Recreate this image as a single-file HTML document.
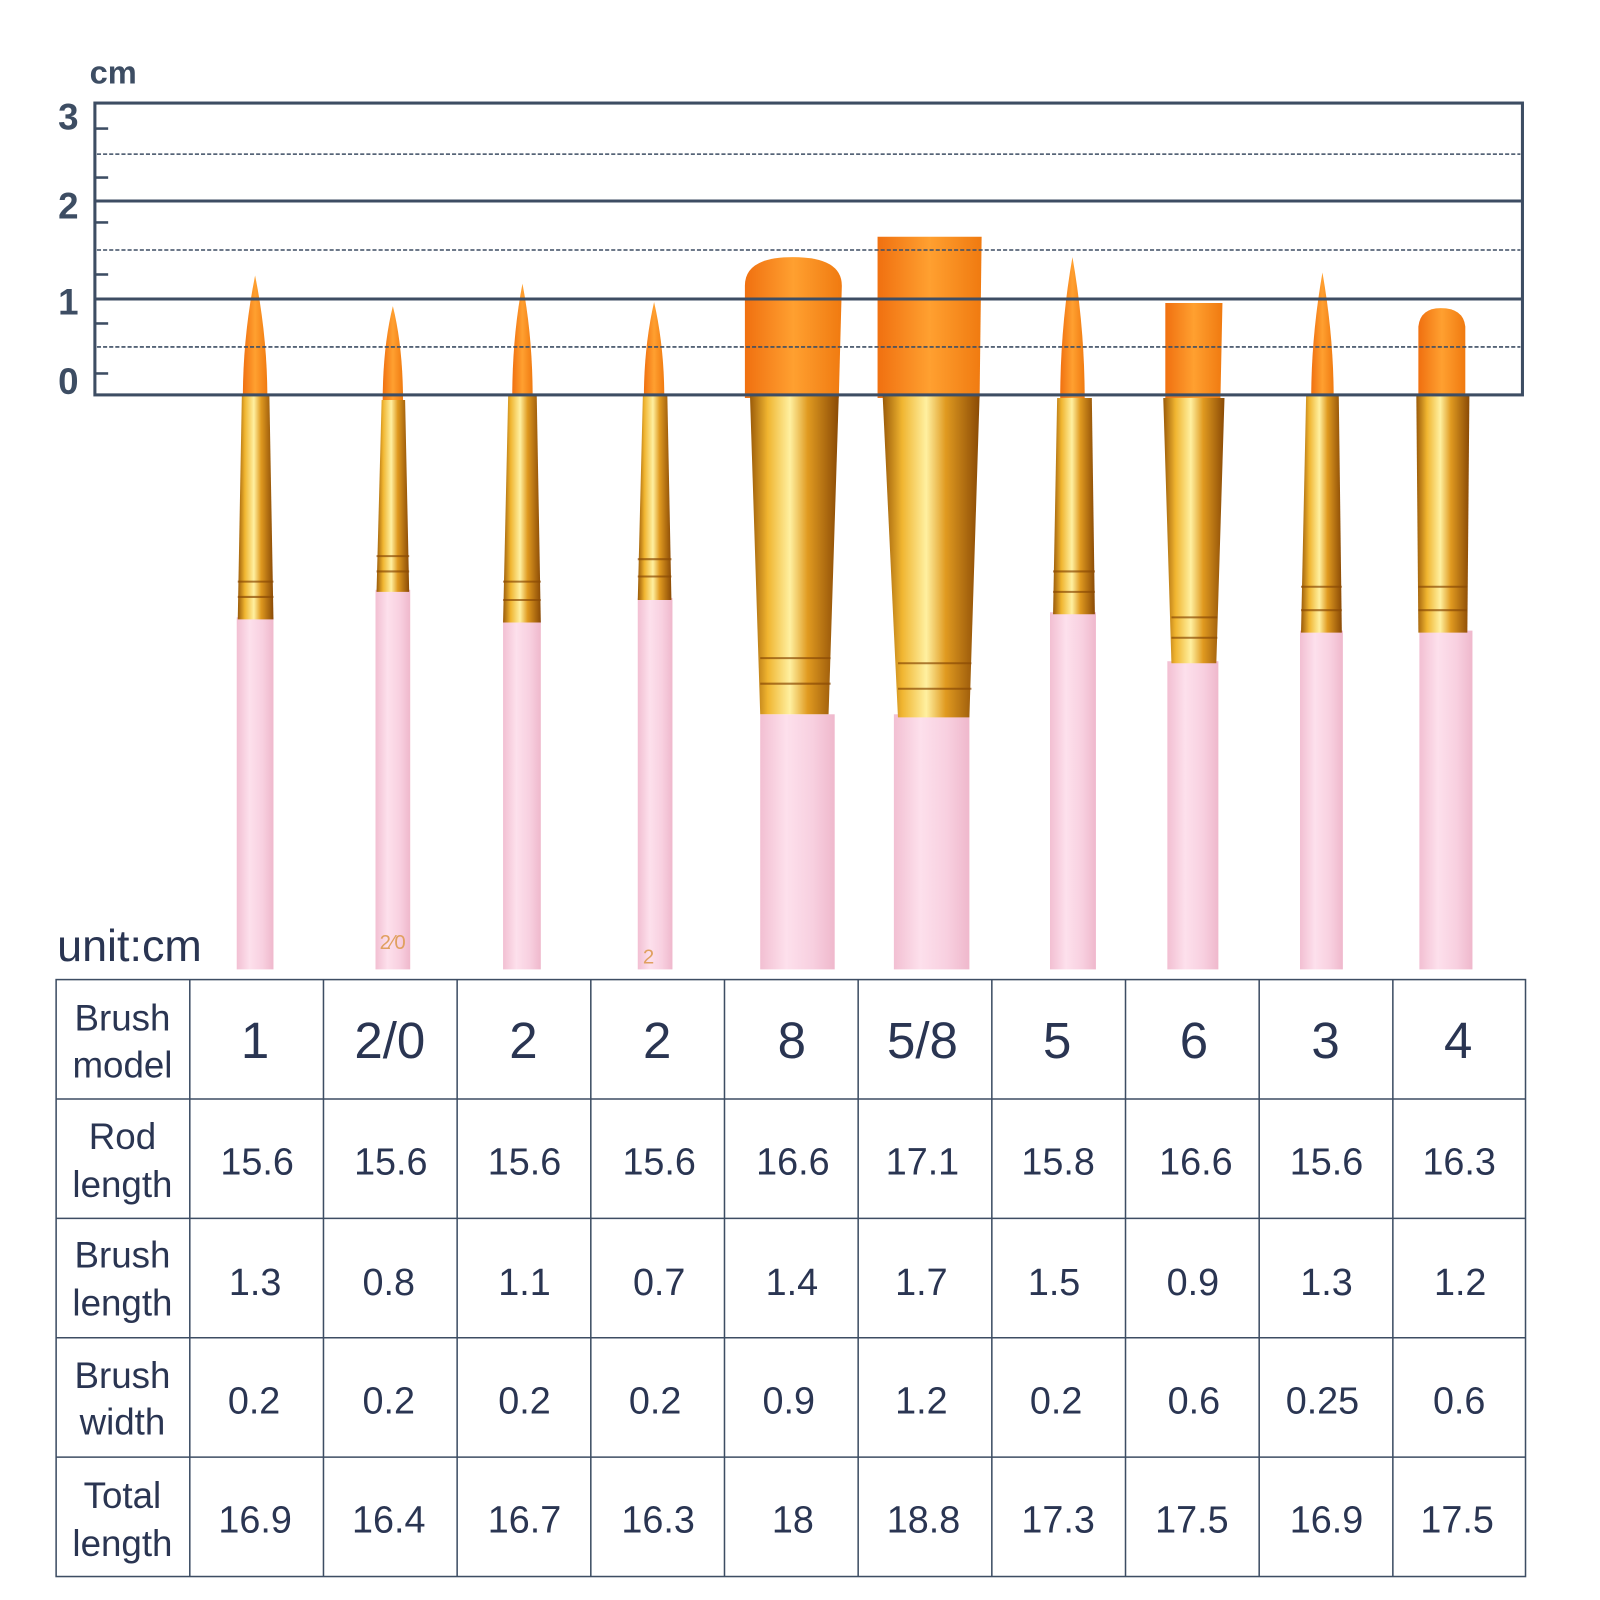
<!DOCTYPE html>
<html><head><meta charset="utf-8"><style>
html,body{margin:0;padding:0;background:#fff;width:1600px;height:1600px;overflow:hidden}
svg{display:block}
text{font-family:"Liberation Sans",sans-serif}
</style></head><body>
<svg width="1600" height="1600" viewBox="0 0 1568 1568" xmlns="http://www.w3.org/2000/svg">
<defs>
<linearGradient id="gold" x1="0" x2="1" y1="0" y2="0">
<stop offset="0" stop-color="#9a5a08"/><stop offset="0.2" stop-color="#f0b530"/><stop offset="0.45" stop-color="#fff0a0"/><stop offset="0.65" stop-color="#e09a20"/><stop offset="1" stop-color="#8a4a05"/></linearGradient>
<linearGradient id="pink" x1="0" x2="1" y1="0" y2="0">
<stop offset="0" stop-color="#f2bfd2"/><stop offset="0.35" stop-color="#fde0ec"/><stop offset="0.7" stop-color="#f8d0e0"/><stop offset="1" stop-color="#efb8cc"/></linearGradient>
<linearGradient id="hair" x1="0" x2="1" y1="0" y2="0">
<stop offset="0" stop-color="#f07010"/><stop offset="0.5" stop-color="#ffa030"/><stop offset="1" stop-color="#f07a10"/></linearGradient>
</defs>

<g>
<rect x="232" y="605" width="36" height="345" fill="url(#pink)"/>
<rect x="368" y="578" width="34" height="372" fill="url(#pink)"/>
<rect x="493" y="608" width="37" height="342" fill="url(#pink)"/>
<rect x="625" y="586" width="34" height="364" fill="url(#pink)"/>
<rect x="745" y="700" width="73" height="250" fill="url(#pink)"/>
<rect x="876" y="700" width="74" height="250" fill="url(#pink)"/>
<rect x="1029" y="600" width="45" height="350" fill="url(#pink)"/>
<rect x="1144" y="648" width="50" height="302" fill="url(#pink)"/>
<rect x="1274" y="618" width="42" height="332" fill="url(#pink)"/>
<rect x="1391" y="618" width="52" height="332" fill="url(#pink)"/>
<path d="M250 270 Q262 330 262 390 L238 390 Q238 330 250 270Z" fill="url(#hair)"/>
<path d="M385 300 Q395 340 395 395 L375 395 Q375 340 385 300Z" fill="url(#hair)"/>
<path d="M512 278 Q522 330 522 390 L502 390 Q502 330 512 278Z" fill="url(#hair)"/>
<path d="M641 296 Q651 340 651 390 L631 390 Q631 340 641 296Z" fill="url(#hair)"/>
<path d="M730 390 L730 280 Q730 252 777 252 Q825 252 825 280 L822 390Z" fill="url(#hair)"/>
<path d="M860 390 L860 232 L962 232 L960 390Z" fill="url(#hair)"/>
<path d="M1051 252 Q1063 320 1063 392 L1039 392 Q1039 320 1051 252Z" fill="url(#hair)"/>
<path d="M1142 392 L1142 297 L1198 297 L1196 392Z" fill="url(#hair)"/>
<path d="M1296 267 Q1307 330 1307 390 L1285 390 Q1285 330 1296 267Z" fill="url(#hair)"/>
<path d="M1390 390 L1390 320 Q1392 302 1412 302 Q1434 302 1436 320 L1436 390Z" fill="url(#hair)"/>
<path d="M237 388 L264 388 L268 607 L233 607Z" fill="url(#gold)"/>
<path d="M374 392 L397 392 L401 580 L369 580Z" fill="url(#gold)"/>
<path d="M498 388 L526 388 L530 610 L493 610Z" fill="url(#gold)"/>
<path d="M630 388 L654 388 L658 588 L625 588Z" fill="url(#gold)"/>
<path d="M735 388 L822 388 L812 700 L745 700Z" fill="url(#gold)"/>
<path d="M865 388 L960 388 L950 703 L880 703Z" fill="url(#gold)"/>
<path d="M1036 390 L1070 390 L1073 602 L1032 602Z" fill="url(#gold)"/>
<path d="M1140 390 L1200 390 L1192 650 L1148 650Z" fill="url(#gold)"/>
<path d="M1280 388 L1312 388 L1315 620 L1275 620Z" fill="url(#gold)"/>
<path d="M1388 388 L1440 388 L1438 620 L1390 620Z" fill="url(#gold)"/>
<g stroke="#8a4a05" stroke-width="2" opacity="0.7">
<line x1="233" y1="570" x2="268" y2="570"/><line x1="233" y1="585" x2="268" y2="585"/>
<line x1="369" y1="545" x2="401" y2="545"/><line x1="369" y1="560" x2="401" y2="560"/>
<line x1="493" y1="570" x2="530" y2="570"/><line x1="493" y1="588" x2="530" y2="588"/>
<line x1="625" y1="548" x2="658" y2="548"/><line x1="625" y1="565" x2="658" y2="565"/>
<line x1="745" y1="645" x2="814" y2="645"/><line x1="745" y1="670" x2="814" y2="670"/>
<line x1="880" y1="650" x2="952" y2="650"/><line x1="880" y1="675" x2="952" y2="675"/>
<line x1="1032" y1="560" x2="1073" y2="560"/><line x1="1032" y1="580" x2="1073" y2="580"/>
<line x1="1148" y1="605" x2="1193" y2="605"/><line x1="1148" y1="625" x2="1193" y2="625"/>
<line x1="1275" y1="575" x2="1315" y2="575"/><line x1="1275" y1="598" x2="1315" y2="598"/>
<line x1="1390" y1="575" x2="1438" y2="575"/><line x1="1390" y1="598" x2="1438" y2="598"/>
</g>
</g>
<text x="372" y="930" font-size="20" fill="#e0a060">2⁄0</text>
<text x="630" y="944" font-size="20" fill="#e0a060">2</text>

<g stroke="#3d4d63" fill="none">
<rect x="93" y="101" width="1399" height="286" stroke-width="3"/>
<line x1="93" y1="197" x2="1492" y2="197" stroke-width="3"/>
<line x1="93" y1="293" x2="1492" y2="293" stroke-width="3"/>
<g stroke-width="1.5" stroke-dasharray="4 2">
<line x1="95" y1="151" x2="1490" y2="151"/>
<line x1="95" y1="245" x2="1490" y2="245"/>
<line x1="95" y1="340" x2="1490" y2="340"/>
</g>
<g stroke-width="2.5">
<line x1="93" y1="126" x2="106" y2="126"/><line x1="93" y1="174" x2="106" y2="174"/>
<line x1="93" y1="218" x2="106" y2="218"/><line x1="93" y1="269" x2="106" y2="269"/>
<line x1="93" y1="317" x2="106" y2="317"/><line x1="93" y1="366" x2="106" y2="366"/>
</g>
</g>
<g fill="#3d4d63" font-weight="bold" font-size="36" text-anchor="middle">
<text x="67" y="127">3</text><text x="67" y="214">2</text><text x="67" y="308">1</text><text x="67" y="386">0</text>
<text x="111" y="82" font-size="32">cm</text>
</g>

<text x="56" y="942" font-size="44" fill="#2a3552">unit:cm</text>

<g stroke="#3d4d63" stroke-width="1.5" fill="none">
<rect x="55" y="960" width="1440" height="585"/>
<line x1="55" y1="1077" x2="1495" y2="1077"/><line x1="55" y1="1194" x2="1495" y2="1194"/>
<line x1="55" y1="1311" x2="1495" y2="1311"/><line x1="55" y1="1428" x2="1495" y2="1428"/>
<line x1="186" y1="960" x2="186" y2="1545"/><line x1="317" y1="960" x2="317" y2="1545"/>
<line x1="448" y1="960" x2="448" y2="1545"/><line x1="579" y1="960" x2="579" y2="1545"/>
<line x1="710" y1="960" x2="710" y2="1545"/><line x1="841" y1="960" x2="841" y2="1545"/>
<line x1="972" y1="960" x2="972" y2="1545"/><line x1="1103" y1="960" x2="1103" y2="1545"/>
<line x1="1234" y1="960" x2="1234" y2="1545"/><line x1="1365" y1="960" x2="1365" y2="1545"/>
</g>
<g fill="#2a3552" text-anchor="middle" font-size="36">
<text x="120" y="1010">Brush</text><text x="120" y="1056">model</text>
<text x="120" y="1126">Rod</text><text x="120" y="1173">length</text>
<text x="120" y="1242">Brush</text><text x="120" y="1289">length</text>
<text x="120" y="1360">Brush</text><text x="120" y="1406">width</text>
<text x="120" y="1478">Total</text><text x="120" y="1525">length</text>
</g>
<g fill="#2a3552" text-anchor="middle" font-size="50">
<text x="250" y="1037">1</text><text x="382" y="1037">2/0</text><text x="513" y="1037">2</text><text x="644" y="1037">2</text><text x="776" y="1037">8</text><text x="904" y="1037">5/8</text><text x="1036" y="1037">5</text><text x="1170" y="1037">6</text><text x="1299" y="1037">3</text><text x="1429" y="1037">4</text>
</g>
<g fill="#2a3552" text-anchor="middle" font-size="37">
<text x="252" y="1151">15.6</text><text x="383" y="1151">15.6</text><text x="514" y="1151">15.6</text><text x="646" y="1151">15.6</text><text x="777" y="1151">16.6</text><text x="904" y="1151">17.1</text><text x="1037" y="1151">15.8</text><text x="1172" y="1151">16.6</text><text x="1300" y="1151">15.6</text><text x="1430" y="1151">16.3</text>
<text x="250" y="1269">1.3</text><text x="381" y="1269">0.8</text><text x="514" y="1269">1.1</text><text x="646" y="1269">0.7</text><text x="776" y="1269">1.4</text><text x="903" y="1269">1.7</text><text x="1033" y="1269">1.5</text><text x="1169" y="1269">0.9</text><text x="1300" y="1269">1.3</text><text x="1431" y="1269">1.2</text>
<text x="249" y="1385">0.2</text><text x="381" y="1385">0.2</text><text x="514" y="1385">0.2</text><text x="642" y="1385">0.2</text><text x="773" y="1385">0.9</text><text x="903" y="1385">1.2</text><text x="1035" y="1385">0.2</text><text x="1170" y="1385">0.6</text><text x="1296" y="1385">0.25</text><text x="1430" y="1385">0.6</text>
<text x="250" y="1502">16.9</text><text x="381" y="1502">16.4</text><text x="514" y="1502">16.7</text><text x="645" y="1502">16.3</text><text x="777" y="1502">18</text><text x="905" y="1502">18.8</text><text x="1037" y="1502">17.3</text><text x="1168" y="1502">17.5</text><text x="1300" y="1502">16.9</text><text x="1428" y="1502">17.5</text>
</g>
</svg>
</body></html>
